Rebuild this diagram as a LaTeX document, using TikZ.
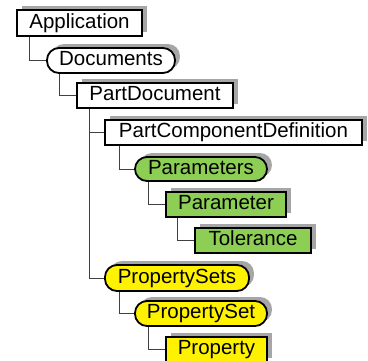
\documentclass[tikz,border=0pt]{standalone}
\usepackage{fontspec}
\setmainfont{Liberation Sans}
\usetikzlibrary{shadows}
\definecolor{leaf}{HTML}{8DCF55}
\definecolor{shd}{HTML}{A6A6A6}
\tikzset{
  base/.style={draw=black, line width=1.8pt, inner sep=0pt, text height=14.5pt, text depth=4pt,
    font=\fontsize{20.5}{24}\selectfont,
    drop shadow={shadow xshift=5pt, shadow yshift=4pt, fill=shd, opacity=1}},
  rbox/.style={base, rectangle},
  pill/.style={base, rectangle, rounded corners=12pt},
  conn/.style={draw=black!75, line width=0.9pt},
}
\begin{document}
\begin{tikzpicture}[x=1pt,y=-1pt]
\useasboundingbox (0,0) rectangle (368,360);
\node[rbox, fill=white, minimum width=125pt, minimum height=26pt] (app) at (79.5,23) {Application};
\node[pill, fill=white, minimum width=128pt, minimum height=25pt] (docs) at (111,60.5) {Documents};
\node[rbox, fill=white, minimum width=156pt, minimum height=25pt] (partdoc) at (155,95.5) {PartDocument};
\node[rbox, fill=white, minimum width=257pt, minimum height=25pt] (pcd) at (233.5,132.5) {PartComponentDefinition};
\node[pill, fill=leaf, minimum width=132pt, minimum height=24pt] (params) at (201,169) {Parameters};
\node[rbox, fill=leaf, minimum width=120pt, minimum height=25pt] (param) at (226,204.5) {Parameter};
\node[rbox, fill=leaf, minimum width=116pt, minimum height=25pt] (tol) at (253,240.5) {Tolerance};
\node[pill, fill=yellow, minimum width=144pt, minimum height=26pt] (psets) at (177,278) {PropertySets};
\node[pill, fill=yellow, minimum width=132pt, minimum height=25pt] (pset) at (201,313.5) {PropertySet};
\node[rbox, fill=yellow, minimum width=101pt, minimum height=25pt] (prop) at (216.5,349.5) {Property};
\draw[conn] (app.south west) ++(13,0) |- (docs.west);
\draw[conn] (docs.south west) ++(13,0) |- (partdoc.west);
\draw[conn] (partdoc.south west) ++(13,0) |- (psets.west);
\draw[conn] (partdoc.south west) ++(13,0) |- (pcd.west);
\draw[conn] (pcd.south west) ++(15,0) |- (params.west);
\draw[conn] (params.south west) ++(14,0) |- (param.west);
\draw[conn] (param.south west) ++(12,0) |- (tol.west);
\draw[conn] (psets.south west) ++(15,0) |- (pset.west);
\draw[conn] (pset.south west) ++(14,0) |- (prop.west);
\end{tikzpicture}
\end{document}
